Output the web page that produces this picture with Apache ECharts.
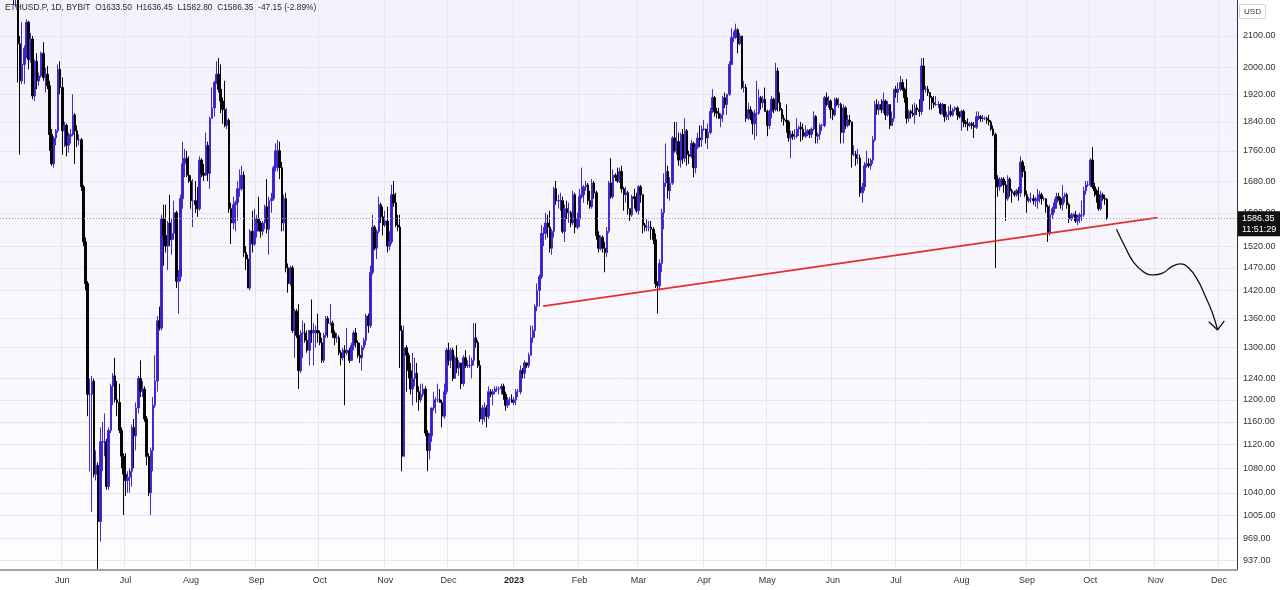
<!DOCTYPE html>
<html><head><meta charset="utf-8">
<script src="https://cdn.jsdelivr.net/npm/echarts@6/dist/echarts.min.js"></script>
<style>html,body{margin:0;padding:0;background:#fff}#c{width:1280px;height:590px}</style>
</head><body><div id="c"></div>
<script>
// ETHUSD.P daily candles, 2022-05-03 .. 2023-10-09
const open = [
2860,2780,2940,2750,2695,2635,2520,2245,2340,2075,1960,2010,2060,2145,2025,2090,1915,2020,1960,1975,2045,1970,1980,1945,1805,1725,1795,1815,1995,
1940,1815,1830,1775,1800,1805,1860,1815,1790,1790,1665,1530,1435,1210,1210,1235,1070,1085,995,1125,1125,1125,1050,1145,1225,1245,1200,1195,1145,1100,
1070,1060,1065,1075,1150,1135,1185,1240,1215,1220,1165,1100,1040,1110,1190,1235,1355,1340,1585,1545,1520,1575,1535,1550,1600,1440,1450,1635,1725,1740,1695,
1680,1630,1630,1620,1610,1735,1700,1695,1775,1700,1850,1880,1955,1980,1935,1900,1875,1830,1845,1610,1575,1620,1625,1660,1660,1695,1505,1490,1425,1555,1525,
1555,1585,1575,1555,1575,1615,1560,1630,1635,1715,1760,1760,1715,1575,1635,1470,1435,1470,1335,1375,1325,1255,1330,1330,1315,1295,1335,1330,1335,1335,
1330,1310,1275,1325,1360,1350,1350,1330,1320,1320,1290,1280,1295,1290,1295,1275,1305,1330,1310,1285,1280,1300,1315,1365,1345,1460,1565,1515,1555,1620,1590,
1570,1580,1520,1530,1645,1625,1570,1565,1335,1100,1300,1285,1255,1220,1240,1250,1215,1200,1210,1220,1140,1110,1135,1185,1200,1200,1200,1195,1170,1215,
1295,1275,1295,1240,1280,1260,1270,1230,1280,1265,1265,1265,1275,1320,1310,1265,1165,1185,1185,1170,1215,1210,1215,1220,1220,1220,1225,1210,1190,1200,1200,
1195,1200,1215,1215,1255,1250,1270,1265,1285,1320,1335,1385,1420,1450,1550,1550,1575,1565,1515,1555,1660,1630,1630,1630,1555,1610,1600,1600,1575,1645,1565,
1585,1640,1645,1665,1670,1630,1615,1675,1650,1545,1515,1540,1515,1505,1555,1675,1640,1695,1690,1680,1705,1660,1645,1650,1610,1595,1640,1635,
1605,1665,1645,1570,1565,1565,1565,1560,1535,1435,1430,1480,1600,1675,1705,1655,1675,1795,1760,1785,1735,1805,1740,1815,1750,1745,1780,1715,1770,1795,1790,
1820,1820,1795,1810,1870,1910,1870,1865,1850,1860,1910,1890,1920,2010,2095,2095,2120,2075,2100,1940,1940,1850,1875,1865,1835,1865,1865,1910,1895,1905,
1870,1830,1870,1905,1875,1990,1895,1875,1850,1845,1840,1795,1805,1800,1800,1820,1825,1820,1800,1810,1815,1805,1820,1855,1800,1805,1830,1830,1910,1890,1900,
1875,1860,1905,1890,1890,1810,1880,1830,1845,1840,1750,1750,1740,1740,1650,1665,1720,1725,1720,1735,1790,1890,1875,1890,1875,1900,1860,1890,1830,1850,
1935,1925,1935,1955,1935,1910,1850,1870,1865,1860,1880,1875,1870,2005,1935,1935,1925,1910,1895,1890,1890,1890,1865,1890,1855,1860,1870,1860,1875,1880,1860,
1855,1870,1840,1835,1830,1835,1830,1825,1855,1855,1850,1850,1850,1845,1840,1820,1805,1685,1665,1670,1685,1670,1635,1685,1655,1650,1645,1655,1650,1730,1705,
1645,1630,1635,1635,1630,1630,1635,1645,1635,1635,1615,1550,1595,1610,1625,1640,1635,1620,1640,1645,1620,1585,1595,1595,1580,1590,1595,1595,1655,1670,
1670,1735,1665,1655,1645,1610,1645,1635,1633.5
];
const high = [
2960,2955,2955,2760,2700,2645,2525,2455,2450,2100,2145,2070,2155,2150,2110,2100,2025,2045,1985,2050,2080,2000,2005,1960,1820,1800,1820,2010,2020,
1970,1840,1835,1810,1820,1920,1865,1830,1805,1795,1670,1540,1440,1240,1245,1240,1110,1090,1150,1160,1175,1130,1150,1230,1250,1280,1235,1230,1150,1105,
1105,1075,1080,1155,1165,1195,1245,1275,1235,1225,1170,1105,1115,1205,1285,1365,1385,1595,1620,1620,1580,1645,1585,1630,1605,1465,1645,1785,1765,1760,1745,
1695,1685,1680,1665,1745,1740,1725,1810,1785,1855,1940,1960,2020,2030,2010,1910,1960,1880,1850,1625,1640,1630,1680,1710,1720,1705,1520,1500,1560,1605,1610,
1595,1640,1580,1580,1620,1685,1640,1650,1720,1780,1790,1785,1730,1645,1650,1480,1475,1475,1380,1380,1390,1335,1355,1350,1335,1335,1400,1350,1345,1370,
1335,1320,1330,1365,1365,1390,1355,1335,1330,1325,1295,1300,1305,1340,1300,1310,1335,1340,1315,1310,1305,1320,1370,1370,1475,1595,1570,1560,1640,1625,1615,
1605,1615,1555,1670,1680,1650,1595,1595,1345,1345,1305,1290,1270,1290,1280,1270,1225,1230,1230,1225,1145,1140,1185,1215,1205,1230,1220,1200,1230,1300,
1310,1300,1300,1285,1305,1275,1270,1285,1295,1275,1285,1280,1350,1350,1315,1275,1190,1195,1190,1225,1220,1220,1225,1225,1225,1230,1230,1215,1205,1205,1210,
1205,1220,1220,1265,1260,1275,1270,1290,1345,1345,1390,1435,1455,1570,1565,1600,1595,1605,1560,1665,1680,1645,1650,1640,1620,1630,1625,1605,1655,1650,1600,
1660,1715,1670,1680,1675,1655,1685,1680,1655,1555,1545,1545,1530,1565,1680,1740,1710,1700,1715,1715,1720,1665,1665,1655,1610,1645,1660,1650,
1670,1670,1645,1575,1585,1580,1580,1565,1550,1440,1490,1610,1700,1780,1720,1690,1800,1840,1840,1810,1810,1820,1850,1820,1760,1790,1785,1780,1810,1830,1830,
1845,1820,1835,1880,1935,1915,1880,1880,1865,1915,1925,1920,2020,2125,2115,2140,2125,2110,2100,1960,1950,1895,1885,1870,1875,1960,1935,1915,1915,1940,
1875,1875,1915,1910,2015,2000,1925,1880,1860,1890,1845,1815,1815,1820,1850,1830,1840,1835,1830,1820,1820,1825,1870,1860,1810,1835,1835,1915,1925,1915,1905,
1880,1910,1910,1910,1895,1890,1885,1860,1860,1840,1775,1760,1765,1750,1675,1730,1760,1740,1740,1800,1900,1905,1900,1905,1925,1905,1900,1890,1870,1935,
1945,1955,1975,1965,1940,1965,1875,1875,1890,1895,1890,1905,2030,2030,1945,1945,1925,1915,1915,1915,1900,1895,1895,1890,1870,1885,1890,1880,1885,1885,1870,
1875,1875,1845,1850,1840,1840,1840,1870,1870,1860,1860,1855,1855,1860,1845,1830,1810,1695,1690,1690,1690,1680,1695,1690,1660,1655,1660,1665,1745,1735,1720,
1655,1640,1650,1645,1640,1660,1655,1650,1640,1635,1620,1620,1615,1635,1650,1650,1640,1670,1650,1650,1625,1600,1600,1605,1595,1600,1630,1665,1680,1680,
1740,1770,1675,1660,1665,1655,1650,1645,1636.45
];
const low = [
2755,2755,2700,2625,2580,2500,2205,2195,1955,1750,1950,1950,2030,1995,2015,1905,1900,1935,1945,1970,1960,1925,1935,1760,1720,1715,1775,1810,1920,
1750,1770,1745,1755,1780,1800,1725,1770,1775,1655,1520,1420,1170,1075,1010,1065,1060,925,965,1075,1100,1045,1045,1140,1190,1195,1170,1140,1080,1005,
1035,1040,1040,1050,1080,1110,1175,1205,1205,1160,1085,1035,1005,1075,1185,1215,1335,1335,1475,1505,1465,1520,1500,1535,1425,1370,1440,1610,1690,1690,1675,
1610,1565,1600,1590,1605,1690,1680,1695,1680,1660,1850,1855,1950,1925,1865,1835,1825,1820,1600,1525,1560,1555,1580,1640,1655,1495,1465,1425,1420,1505,1520,
1540,1555,1540,1545,1560,1550,1500,1600,1630,1705,1705,1685,1555,1555,1460,1415,1430,1330,1280,1320,1220,1250,1280,1310,1290,1265,1310,1265,1300,1310,
1305,1270,1270,1320,1320,1345,1320,1305,1310,1285,1265,1275,1190,1285,1270,1275,1295,1300,1280,1270,1255,1295,1305,1330,1340,1455,1510,1490,1550,1575,1545,
1565,1505,1510,1525,1615,1565,1555,1260,1075,1100,1215,1240,1210,1190,1225,1195,1180,1195,1205,1135,1075,1095,1125,1180,1175,1195,1195,1150,1165,1210,
1265,1260,1235,1240,1250,1245,1220,1225,1260,1260,1260,1240,1265,1300,1260,1160,1155,1160,1150,1165,1205,1190,1210,1215,1210,1210,1200,1180,1185,1190,1195,
1190,1190,1205,1210,1240,1240,1260,1260,1285,1310,1320,1375,1385,1445,1520,1535,1540,1505,1500,1540,1620,1610,1605,1550,1530,1585,1575,1565,1570,1550,1560,
1565,1635,1625,1655,1620,1610,1610,1635,1535,1505,1510,1505,1460,1495,1550,1635,1635,1680,1675,1675,1650,1605,1625,1595,1580,1590,1610,1600,
1595,1625,1550,1555,1555,1555,1535,1525,1425,1370,1420,1460,1560,1665,1635,1630,1670,1755,1750,1720,1715,1725,1730,1720,1725,1740,1690,1700,1765,1770,1770,
1815,1780,1765,1805,1865,1855,1850,1850,1825,1840,1880,1860,1915,2010,2080,2090,2045,2070,1935,1925,1840,1845,1845,1805,1790,1800,1860,1875,1880,1870,
1800,1820,1850,1865,1870,1870,1870,1840,1830,1810,1785,1740,1790,1790,1795,1800,1785,1790,1795,1800,1795,1795,1815,1780,1780,1790,1815,1825,1885,1880,1850,
1845,1855,1885,1880,1780,1780,1820,1825,1830,1715,1745,1720,1725,1640,1625,1655,1715,1715,1710,1725,1785,1860,1860,1865,1865,1845,1855,1820,1830,1840,
1910,1895,1930,1930,1895,1835,1840,1850,1855,1835,1860,1855,1860,1900,1925,1915,1875,1875,1880,1885,1880,1860,1860,1840,1845,1845,1855,1855,1870,1845,1850,
1815,1825,1825,1815,1825,1820,1795,1820,1845,1840,1840,1845,1835,1830,1815,1800,1470,1640,1655,1665,1650,1580,1630,1640,1625,1640,1640,1630,1640,1690,1640,
1600,1625,1625,1620,1615,1610,1625,1620,1630,1600,1530,1545,1585,1600,1610,1630,1610,1605,1625,1610,1575,1580,1590,1575,1570,1575,1580,1590,1645,1665,
1665,1660,1640,1625,1605,1605,1630,1620,1582.8
];
const close = [
2780,2940,2750,2695,2635,2520,2245,2340,2075,1960,2010,2060,2145,2025,2090,1915,2020,1960,1975,2045,1970,1980,1945,1805,1725,1795,1815,1995,1940,
1815,1830,1775,1800,1805,1860,1815,1790,1790,1665,1530,1435,1210,1210,1235,1070,1085,995,1125,1125,1125,1050,1145,1225,1245,1200,1195,1145,1100,1070,
1060,1065,1075,1150,1135,1185,1240,1215,1220,1165,1100,1040,1110,1190,1235,1355,1340,1585,1545,1520,1575,1535,1550,1600,1440,1450,1635,1725,1740,1695,1680,
1630,1630,1620,1610,1735,1700,1695,1775,1700,1850,1880,1955,1980,1935,1900,1875,1830,1845,1610,1575,1620,1625,1660,1660,1695,1505,1490,1425,1555,1525,1555,
1585,1575,1555,1575,1615,1560,1630,1635,1715,1760,1760,1715,1575,1635,1470,1435,1470,1335,1375,1325,1255,1330,1330,1315,1295,1335,1330,1335,1335,1330,
1310,1275,1325,1360,1350,1350,1330,1320,1320,1290,1280,1295,1290,1295,1275,1305,1330,1310,1285,1280,1300,1315,1365,1345,1460,1565,1515,1555,1620,1590,1570,
1580,1520,1530,1645,1625,1570,1565,1335,1100,1300,1285,1255,1220,1240,1250,1215,1200,1210,1220,1140,1110,1135,1185,1200,1200,1200,1195,1170,1215,1295,
1275,1295,1240,1280,1260,1270,1230,1280,1265,1265,1265,1275,1320,1310,1265,1165,1185,1185,1170,1215,1210,1215,1220,1220,1220,1225,1210,1190,1200,1200,1195,
1200,1215,1215,1255,1250,1270,1265,1285,1320,1335,1385,1420,1450,1550,1550,1575,1565,1515,1555,1660,1630,1630,1630,1555,1610,1600,1600,1575,1645,1565,1585,
1640,1645,1665,1670,1630,1615,1675,1650,1545,1515,1540,1515,1505,1555,1675,1640,1695,1690,1680,1705,1660,1645,1650,1610,1595,1640,1635,1605,
1665,1645,1570,1565,1565,1565,1560,1535,1435,1430,1480,1600,1675,1705,1655,1675,1795,1760,1785,1735,1805,1740,1815,1750,1745,1780,1715,1770,1795,1790,1820,
1820,1795,1810,1870,1910,1870,1865,1850,1860,1910,1890,1920,2010,2095,2095,2120,2075,2100,1940,1940,1850,1875,1865,1835,1865,1865,1910,1895,1905,1870,
1830,1870,1905,1875,1990,1895,1875,1850,1845,1840,1795,1805,1800,1800,1820,1825,1820,1800,1810,1815,1805,1820,1855,1800,1805,1830,1830,1910,1890,1900,1875,
1860,1905,1890,1890,1810,1880,1830,1845,1840,1750,1750,1740,1740,1650,1665,1720,1725,1720,1735,1790,1890,1875,1890,1875,1900,1860,1890,1830,1850,1935,
1925,1935,1955,1935,1910,1850,1870,1865,1860,1880,1875,1870,2005,1935,1935,1925,1910,1895,1890,1890,1890,1865,1890,1855,1860,1870,1860,1875,1880,1860,1855,
1870,1840,1835,1830,1835,1830,1825,1855,1855,1850,1850,1850,1845,1840,1820,1805,1685,1665,1670,1685,1670,1635,1685,1655,1650,1645,1655,1650,1730,1705,1645,
1630,1635,1635,1630,1630,1635,1645,1635,1635,1615,1550,1595,1610,1625,1640,1635,1620,1640,1645,1620,1585,1595,1595,1580,1590,1595,1595,1655,1670,1670,
1735,1665,1655,1645,1610,1645,1635,1633.5,1586.35
];
const priceTicks = [937,969,1005,1040,1080,1120,1160,1200,1240,1300,1360,1420,1470,1520,1600,1680,1760,1840,1920,2000,2100];
const monthNames = ['Jan','Feb','Mar','Apr','May','Jun','Jul','Aug','Sep','Oct','Nov','Dec'];
const firstDayUTC = Date.UTC(2022, 4, 3);
const dayCount = 586;                 // visible days incl. right-side space
const axisMinPrice = 923.5, axisMaxPrice = 2219.6;
const lastPrice = 1586.35, countdown = '11:51:29';
const header = 'ETHUSD.P, 1D, BYBIT  O1633.50  H1636.45  L1582.80  C1586.35  -47.15 (-2.89%)';
// annotations in [day position, price]
const trendLine = [[257.3, 1386], [548.3, 1588]];
const arrowPath = [[528.9,1560],[533.2,1516],[537.0,1483],[541.7,1461],[546.4,1454],[550.7,1458],[555.5,1474],[559.2,1479],[563.0,1470],[567.3,1443],[571.1,1406],[574.4,1371],[576.8,1336]];
const arrowHead = [[572.6,1353],[576.8,1336],[580.0,1355]];

const categories = [];
for (let i = 0; i < dayCount; i++) categories.push(new Date(firstDayUTC + i * 864e5).toISOString().slice(0, 10));

const L = Math.log;
const candles = open.map((o, i) => [L(o), L(close[i]), L(low[i]), L(high[i])]);
const isMonthStart = (i, v) => v.slice(8) === '01';
const FONT = 'Liberation Sans, Arial, sans-serif';

const chart = echarts.init(document.getElementById('c'), null, {renderer: 'canvas'});
chart.setOption({
  animation: false,
  backgroundColor: '#ffffff',
  textStyle: {fontFamily: FONT},
  title: {text: header, left: 0, top: 0, padding: [4, 5],
    textStyle: {fontSize: 8.4, fontWeight: 'normal', color: '#2a2a2a', fontFamily: FONT}},
  grid: {left: 0, right: 43, top: 0, bottom: 20, show: true, borderWidth: 0,
    backgroundColor: new echarts.graphic.LinearGradient(0, 0, 0, 1, [{offset: 0, color: '#f3f1fb'}, {offset: 1, color: '#fdfcff'}])},
  xAxis: [{
    type: 'category', data: categories, boundaryGap: true,
    axisLine: {show: true, onZero: false, lineStyle: {color: '#a3a3a3', width: 2}},
    axisTick: {show: false},
    axisLabel: {interval: isMonthStart, fontSize: 9, color: '#333', margin: 6,
      formatter: v => { const m = +v.slice(5, 7); return m === 1 ? '{b|' + v.slice(0, 4) + '}' : monthNames[m - 1]; },
      rich: {b: {fontWeight: 'bold', fontSize: 9, color: '#222'}}},
    splitLine: {show: true, interval: isMonthStart, lineStyle: {color: '#e8e5f1', width: 1}}
  }, {type: 'value', min: 0, max: dayCount, show: false, axisLine: {show: false, onZero: false}, splitLine: {show: false}}],
  yAxis: {
    type: 'value', position: 'right', min: L(axisMinPrice), max: L(axisMaxPrice),
    axisLine: {show: true, onZero: false, lineStyle: {color: '#333', width: 1}},
    axisTick: {show: false, customValues: priceTicks.map(L)},
    axisLabel: {customValues: priceTicks.map(L), formatter: v => Math.exp(v).toFixed(2), fontSize: 9, color: '#333', margin: 6},
    splitLine: {show: true, lineStyle: {color: '#e8e5f1', width: 1}}
  },
  graphic: [{
    type: 'group', right: 14, top: 4, children: [
      {type: 'rect', shape: {x: 0, y: 0, width: 26, height: 14}, style: {fill: '#fff', stroke: '#d6d6d6', lineWidth: 1}},
      {type: 'text', x: 13, y: 7, style: {text: 'USD', fill: '#333', fontSize: 8, align: 'center', verticalAlign: 'middle', fontFamily: FONT}}
    ]
  }],
  series: [{
    type: 'candlestick', data: candles, barWidth: 2, clip: true,
    itemStyle: {color: '#3a1fc2', borderColor: '#4528d2', color0: '#050505', borderColor0: '#050505', borderWidth: 1},
    markLine: {
      silent: true, symbol: 'none', animation: false,
      data: [{yAxis: L(lastPrice)}],
      lineStyle: {color: '#999', type: [1, 2], width: 1},
      label: {show: true, position: 'end', distance: 1, offset: [0, 6], formatter: lastPrice.toFixed(2) + '\n' + countdown,
        backgroundColor: '#111', color: '#fff', fontSize: 9, lineHeight: 11, padding: [2, 6, 1, 4]}
    }
  }, {
    type: 'line', xAxisIndex: 1, data: trendLine.map(([d, p]) => [d, L(p)]),
    symbol: 'none', silent: true, lineStyle: {color: '#e2302c', width: 1.6}
  }, {
    type: 'line', xAxisIndex: 1, data: arrowPath.map(([d, p]) => [d, L(p)]), smooth: 0.5,
    symbol: 'none', silent: true, lineStyle: {color: '#111', width: 1.3}
  }, {
    type: 'line', xAxisIndex: 1, data: arrowHead.map(([d, p]) => [d, L(p)]),
    symbol: 'none', silent: true, lineStyle: {color: '#111', width: 1.3}
  }]
});
</script></body></html>
